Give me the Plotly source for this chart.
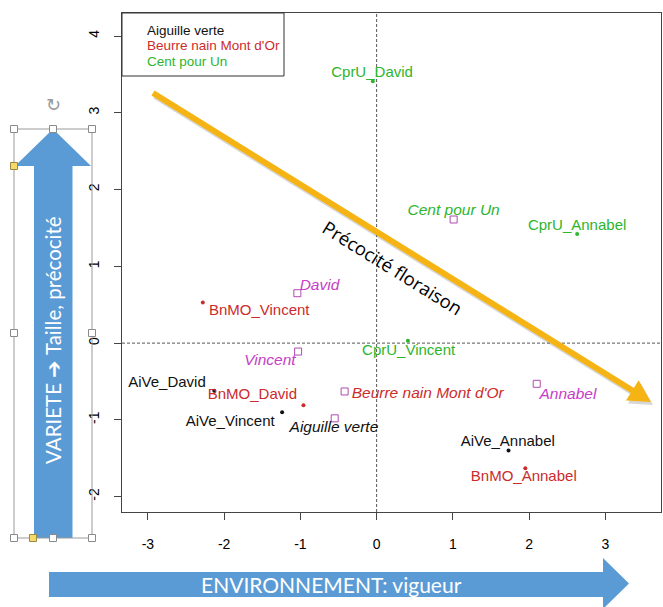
import plotly.graph_objects as go
import math

# ---------------- data ----------------
ind_names = ["AiVe_David", "AiVe_Vincent", "AiVe_Annabel",
             "BnMO_David", "BnMO_Vincent", "BnMO_Annabel",
             "CprU_David", "CprU_Vincent", "CprU_Annabel"]
ind_group = ["AiVe", "AiVe", "AiVe", "BnMO", "BnMO", "BnMO", "CprU", "CprU", "CprU"]
ind_x = [-2.13, -1.24, 1.73, -0.96, -2.28, 1.95, -0.05, 0.41, 2.63]
ind_y = [-0.62, -0.90, -1.40, -0.81, 0.53, -1.63, 3.41, 0.03, 1.42]
ind_label_x = [-2.75, -1.92, 1.72, -1.63, -1.54, 1.93, -0.06, 0.42, 2.63]
ind_label_y = [-0.52, -1.03, -1.29, -0.68, 0.41, -1.75, 3.51, -0.10, 1.52]

sup_names = ["Aiguille verte", "Beurre nain Mont d'Or", "Cent pour Un",
             "David", "Vincent", "Annabel"]
sup_group = ["AiVe", "BnMO", "CprU", "env", "env", "env"]
sup_x = [-0.55, -0.42, 1.01, -1.04, -1.03, 2.10]
sup_y = [-0.98, -0.63, 1.61, 0.65, -0.11, -0.53]
sup_label_x = [-0.56, 0.67, 1.01, -0.75, -1.40, 2.51]
sup_label_y = [-1.11, -0.66, 1.72, 0.74, -0.24, -0.68]

x_ticks = [-3, -2, -1, 0, 1, 2, 3]
y_ticks = [-2, -1, 0, 1, 2, 3, 4]

legend_labels = ["Aiguille verte", "Beurre nain Mont d'Or", "Cent pour Un"]
legend_groups = ["AiVe", "BnMO", "CprU"]

# ---------------- styles ----------------
COLORS = {"AiVe": "#111111", "BnMO": "#CC2B2B", "CprU": "#2DB52D", "env": "#C63DC6"}
SQUARE_COLOR = "#B04AB0"
FONT = "Liberation Sans, Arial, sans-serif"
PPT_FONT = "Open Sans, Noto Sans, sans-serif"
BOX_FONT = "Lato, Open Sans, sans-serif"
ORANGE = "#F5B414"
BLUE = "#5B9BD5"

W_FIG, H_FIG = 663, 607
L, R, T, B = 122, 2, 13, 95
PW = W_FIG - L - R
PH = H_FIG - T - B


def xp(px):
    return (px - L) / PW


def yp(py):
    return (T + PH - py) / PH


def path(points):
    s = "M " + " L ".join(f"{xp(a):.5f},{yp(b):.5f}" for a, b in points) + " Z"
    return s


fig = go.Figure()

# individuals (dots)
for g in ["AiVe", "BnMO", "CprU"]:
    idx = [i for i, gg in enumerate(ind_group) if gg == g]
    fig.add_trace(go.Scatter(
        x=[ind_x[i] for i in idx], y=[ind_y[i] for i in idx],
        mode="markers", marker=dict(symbol="circle", size=4, color=COLORS[g]),
        showlegend=False, hoverinfo="skip"))
    fig.add_trace(go.Scatter(
        x=[ind_label_x[i] for i in idx], y=[ind_label_y[i] for i in idx],
        mode="text", text=[ind_names[i] for i in idx],
        textposition="middle center",
        textfont=dict(family=FONT, size=15, color=COLORS[g]),
        showlegend=False, hoverinfo="skip"))

# supplementary categories (open squares + italic labels)
fig.add_trace(go.Scatter(
    x=sup_x, y=sup_y, mode="markers",
    marker=dict(symbol="square-open", size=7, color=SQUARE_COLOR, line=dict(width=1)),
    showlegend=False, hoverinfo="skip"))
for g in ["AiVe", "BnMO", "CprU", "env"]:
    idx = [i for i, gg in enumerate(sup_group) if gg == g]
    fig.add_trace(go.Scatter(
        x=[sup_label_x[i] for i in idx], y=[sup_label_y[i] for i in idx],
        mode="text", text=[f"<i>{sup_names[i]}</i>" for i in idx],
        textposition="middle center",
        textfont=dict(family=FONT, size=15.5, color=COLORS[g]),
        showlegend=False, hoverinfo="skip"))

shapes = []
annotations = []


def note(px, py, text, size, color, family=PPT_FONT, angle=0, xanchor="center"):
    annotations.append(dict(xref="paper", yref="paper", x=xp(px), y=yp(py), text=text,
                            showarrow=False, textangle=angle, xanchor=xanchor,
                            yanchor="middle", font=dict(family=family, size=size, color=color)))


# dashed axes through origin
shapes.append(dict(type="line", xref="x", yref="y domain", x0=0, x1=0, y0=0, y1=1,
                   line=dict(color="#555555", width=1, dash="3px,2px"), layer="below"))
shapes.append(dict(type="line", xref="x domain", yref="y", x0=0, x1=1, y0=0, y1=0,
                   line=dict(color="#555555", width=1, dash="3px,2px"), layer="below"))

# legend box
shapes.append(dict(type="rect", xref="paper", yref="paper",
                   x0=xp(122), x1=xp(284), y0=yp(76), y1=yp(13),
                   line=dict(color="#333333", width=1), fillcolor="white", layer="above"))
for k, (lab, g) in enumerate(zip(legend_labels, legend_groups)):
    note(145, 30 + 15.8 * k, lab, 13.5, COLORS[g], family=FONT, xanchor="left")

# orange arrow (Précocité floraison)
sx, sy = 153, 93
tx, ty = 651, 402
dx, dy = tx - sx, ty - sy
ln = math.hypot(dx, dy)
ux, uy = dx / ln, dy / ln
nx, ny = -uy, ux
head_len, head_half = 22, 12
bx, by = tx - head_len * ux, ty - head_len * uy
for off, col in [((2, 3), "rgba(90,90,90,0.25)"), ((0, 0), ORANGE)]:
    ox, oy = off
    shapes.append(dict(type="line", xref="paper", yref="paper",
                       x0=xp(sx + ox), y0=yp(sy + oy),
                       x1=xp(bx + 4 * ux + ox), y1=yp(by + 4 * uy + oy),
                       line=dict(color=col, width=6), layer="above"))
    shapes.append(dict(type="path", xref="paper", yref="paper",
                       path=path([(tx + ox, ty + oy),
                                  (bx + head_half * nx + ox, by + head_half * ny + oy),
                                  (bx - head_half * nx + ox, by - head_half * ny + oy)]),
                       fillcolor=col, line=dict(width=0), layer="above"))
angle = math.degrees(math.atan2(dy, dx))
note(393, 267, "Précocité floraison", 18.5, "black", angle=angle)

# blue vertical arrow (VARIETE)
shapes.append(dict(type="path", xref="paper", yref="paper",
                   path=path([(53, 129), (91, 166), (72.5, 166), (72.5, 538),
                              (34, 538), (34, 166), (15, 166)]),
                   fillcolor=BLUE, line=dict(width=0), layer="above"))
note(53, 340, "VARIETE ➔ Taille, précocité", 20.5, "white", family=BOX_FONT, angle=-90)
# selection frame and handles
shapes.append(dict(type="rect", xref="paper", yref="paper",
                   x0=xp(14), x1=xp(92), y0=yp(538), y1=yp(129),
                   line=dict(color="#9A9A9A", width=1), layer="above"))
for hx, hy in [(14, 129), (53, 129), (92, 129), (14, 333), (92, 333),
               (14, 538), (53, 538), (92, 538)]:
    shapes.append(dict(type="rect", xref="paper", yref="paper",
                       x0=xp(hx - 3.5), x1=xp(hx + 3.5), y0=yp(hy + 3.5), y1=yp(hy - 3.5),
                       line=dict(color="#8A8A8A", width=1), fillcolor="white", layer="above"))
for hx, hy in [(14, 166), (33, 538)]:
    shapes.append(dict(type="rect", xref="paper", yref="paper",
                       x0=xp(hx - 3.5), x1=xp(hx + 3.5), y0=yp(hy + 3.5), y1=yp(hy - 3.5),
                       line=dict(color="#9A8A40", width=1), fillcolor="#F7D96A", layer="above"))
note(53, 105, "↻", 18, "#9A9A9A", family="DejaVu Sans")

# blue horizontal arrow (ENVIRONNEMENT)
shapes.append(dict(type="path", xref="paper", yref="paper",
                   path=path([(49, 572), (603, 572), (603, 558), (629, 583.5),
                              (603, 609), (603, 597), (49, 597)]),
                   fillcolor=BLUE, line=dict(width=0), layer="above"))
note(331, 584.5, "ENVIRONNEMENT: vigueur", 21, "white", family=BOX_FONT)

fig.update_layout(
    width=W_FIG, height=H_FIG,
    margin=dict(l=L, r=R, t=T, b=B, pad=0),
    paper_bgcolor="white", plot_bgcolor="white",
    showlegend=False,
    shapes=shapes, annotations=annotations,
    xaxis=dict(range=[-3.34, 3.73], tickvals=x_ticks, ticktext=[str(v) for v in x_ticks],
               showgrid=False, zeroline=False, showline=True, mirror=True,
               linecolor="#444444", linewidth=1, ticks="outside", ticklen=7,
               tickcolor="#444444", tickfont=dict(family=FONT, size=14, color="black"),
               ticklabelstandoff=12),
    yaxis=dict(range=[-2.20, 4.30], tickvals=y_ticks, ticktext=[str(v) for v in y_ticks],
               showgrid=False, zeroline=False, showline=True, mirror=True,
               linecolor="#444444", linewidth=1, ticks="outside", ticklen=7,
               tickcolor="#444444", tickangle=-90,
               tickfont=dict(family=FONT, size=14, color="black"),
               ticklabelstandoff=9),
)

fig.write_html("out.html")
